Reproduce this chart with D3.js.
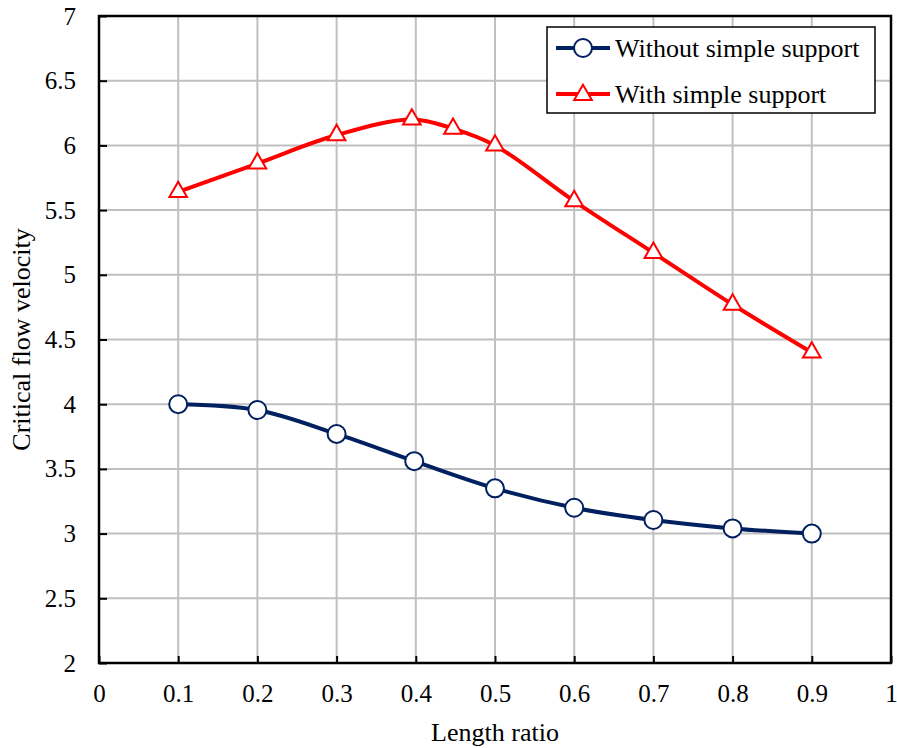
<!DOCTYPE html>
<html><head><meta charset="utf-8">
<script src="https://cdn.jsdelivr.net/npm/d3@7"></script>
<style>body{margin:0;background:#fff;} svg{display:block;} text{font-family:"Liberation Serif","Times New Roman",serif;}</style>
</head><body>
<svg id="c" width="897" height="748"></svg>
<script>
const xTicks = [0,0.1,0.2,0.3,0.4,0.5,0.6,0.7,0.8,0.9,1];
const yTicks = [2,2.5,3,3.5,4,4.5,5,5.5,6,6.5,7];
const blueX = [0.1,0.2,0.3,0.398,0.5,0.6,0.7,0.8,0.9];
const blueY = [4.0,3.955,3.77,3.56,3.35,3.20,3.105,3.04,3.0];
const redX = [0.1,0.2,0.3,0.395,0.447,0.5,0.6,0.7,0.8,0.9];
const redY = [5.64,5.86,6.08,6.20,6.13,6.0,5.57,5.17,4.77,4.40];
const seriesNames = ["Without simple support","With simple support"];

const svg = d3.select("#c");
const L=99,R=891,T=16,B=663;
const x = d3.scaleLinear().domain([0,1]).range([L,R]);
const y = d3.scaleLinear().domain([2,7]).range([B,T]);

// grid
svg.append("g").selectAll("line").data(xTicks.slice(1,-1)).join("line")
 .attr("x1",d=>x(d)).attr("x2",d=>x(d)).attr("y1",T).attr("y2",B)
 .attr("stroke","#c0c0c0").attr("stroke-width",2);
svg.append("g").selectAll("line").data(yTicks.slice(1,-1)).join("line")
 .attr("y1",d=>y(d)).attr("y2",d=>y(d)).attr("x1",L).attr("x2",R)
 .attr("stroke","#c0c0c0").attr("stroke-width",2);

// axes
const xa = svg.append("g").attr("transform",`translate(0,${B})`)
 .call(d3.axisBottom(x).tickValues(xTicks).tickSizeInner(-7).tickSizeOuter(0).tickPadding(21).tickFormat(d=>String(d)));
const ya = svg.append("g").attr("transform",`translate(${L},0)`)
 .call(d3.axisLeft(y).tickValues(yTicks).tickSizeInner(-8).tickSizeOuter(0).tickPadding(23).tickFormat(d=>String(d)));
[xa,ya].forEach(g=>{g.select(".domain").remove();
 g.selectAll("line").attr("stroke","#000").attr("stroke-width",2);
 g.selectAll("text").attr("font-size",25).attr("fill","#000").attr("font-family","Liberation Serif");});
svg.append("rect").attr("x",L).attr("y",T).attr("width",R-L).attr("height",B-T)
 .attr("fill","none").attr("stroke","#000").attr("stroke-width",2.5);

const line = d3.line().x(d=>x(d[0])).y(d=>y(d[1])).curve(d3.curveCatmullRom.alpha(0.5));
const blue = blueX.map((v,i)=>[v,blueY[i]]);
const red = redX.map((v,i)=>[v,redY[i]]);
const bc="#002060", rc="#ff0000";
svg.append("path").attr("d",line(blue)).attr("fill","none").attr("stroke",bc).attr("stroke-width",4);
svg.append("path").attr("d",line(red)).attr("fill","none").attr("stroke",rc).attr("stroke-width",4);

const tri = d3.symbol().type(d3.symbolTriangle).size(135);
svg.append("g").selectAll("circle").data(blue).join("circle")
 .attr("cx",d=>x(d[0])).attr("cy",d=>y(d[1])).attr("r",9)
 .attr("fill","#fff").attr("stroke",bc).attr("stroke-width",2);
svg.append("g").selectAll("path").data(red).join("path")
 .attr("d",tri).attr("transform",d=>`translate(${x(d[0])},${y(d[1])})`)
 .attr("fill","#fff").attr("stroke",rc).attr("stroke-width",2);

// legend
const lg = svg.append("g");
lg.append("rect").attr("x",547).attr("y",27).attr("width",328).attr("height",86)
 .attr("fill","#fff").attr("stroke","#000").attr("stroke-width",1.5);
[[bc,48],[rc,94]].forEach(([c,yy],i)=>{
 lg.append("line").attr("x1",556).attr("x2",610).attr("y1",yy).attr("y2",yy).attr("stroke",c).attr("stroke-width",4);
 if(i===0) lg.append("circle").attr("cx",583).attr("cy",yy).attr("r",9).attr("fill","#fff").attr("stroke",c).attr("stroke-width",2);
 else lg.append("path").attr("d",tri).attr("transform",`translate(583,${yy+1})`).attr("fill","#fff").attr("stroke",c).attr("stroke-width",2);
 lg.append("text").attr("x",615).attr("y",yy+9).attr("font-size",26).text(seriesNames[i]);
});

svg.append("text").attr("x",(L+R)/2).attr("y",741).attr("text-anchor","middle").attr("font-size",26).text("Length ratio");
svg.append("text").attr("transform",`translate(30,${(T+B)/2}) rotate(-90)`).attr("text-anchor","middle").attr("font-size",26).text("Critical flow velocity");
</script>
</body></html>
